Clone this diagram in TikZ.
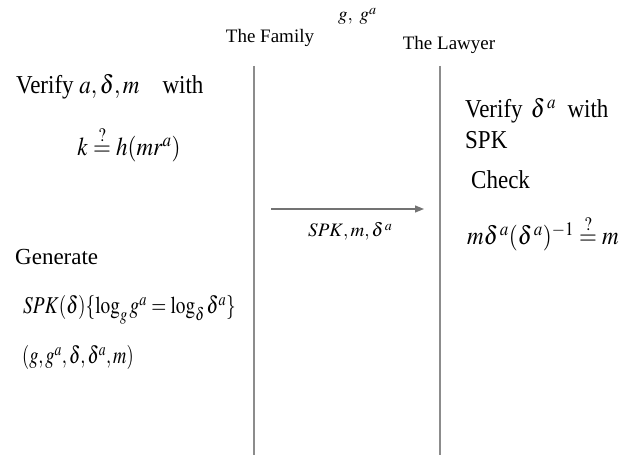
\documentclass[tikz,border=0pt]{standalone}
\usepackage{mathptmx}
\usepackage{fontspec}
\setmainfont{Liberation Serif}
\usetikzlibrary{arrows.meta}
\newcommand\fbig{\fontsize{23}{27}\selectfont}
\newcommand\fmid{\fontsize{19}{22}\selectfont}
\newcommand\fsml{\fontsize{19}{22}\selectfont}
\newcommand\vs[1]{\scalebox{1}[1.12]{#1}}
\newcommand\hs[2]{\scalebox{#1}[1.05]{#2}}
\begin{document}
\begin{tikzpicture}[x=1pt,y=-1pt,
  txt/.style={anchor=base west,inner sep=0pt,font=\fbig},
  hdr/.style={anchor=base,inner sep=0pt,font=\fmid},
  lifeline/.style={draw=black!45,line width=1.6pt},
  msg/.style={draw=black!55,line width=1.2pt,-{Triangle[length=9pt,width=7pt]}}]
\useasboundingbox[fill=white] (0,0) rectangle (638,457);
% headers
\node[hdr] (fam) at (270,43) {The Family};
\node[hdr] (law) at (449,50) {The Lawyer};
\node[anchor=base west,inner sep=0pt,font=\fsml] (gga) at (338,21) {$g,\ g^{a}$};
% lifelines
\coordinate (ft) at (254,66);
\coordinate (fb) at (254,455);
\coordinate (lt) at (440,66);
\coordinate (lb) at (440,455);
\draw[lifeline] (ft) -- (fb);
\draw[lifeline] (lt) -- (lb);
% message
\coordinate (ms) at (271,209);
\coordinate (me) at (424,209);
\draw[msg] (ms) -- (me);
\node[anchor=base west,inner sep=0pt,font=\fsml] (ml) at (308,237) {$SPK,m,\delta^{\,a}$};
% left column
\node[txt] (v1) at (16,94) {\vs{Verify $a,\delta,m$\quad with}};
\node[txt,anchor=base] (k1) at (129,156) {\vs{$k\stackrel{?}{=}h(mr^{a})$}};
\node[txt] (gen) at (15,265) {Generate};
\node[txt] (spk) at (23,314) {\hs{0.84}{$SPK(\delta)\{\log_{g}g^{a}=\log_{\delta}\delta^{a}\}$}};
\node[txt] (tup) at (22,364) {\hs{0.8}{$(g,g^{a},\delta,\delta^{a},m)$}};
% right column
\node[txt] (v2) at (465,118) {\vs{Verify $\,\delta^{\,a}$\enspace with}};
\node[txt] (spk2) at (465,149) {\vs{SPK}};
\node[txt] (chk) at (471,189) {\vs{Check}};
\node[txt] (eq) at (467,245) {\vs{$m\delta^{\,a}(\delta^{\,a})^{-1}\stackrel{?}{=}m$}};
\end{tikzpicture}
\end{document}
